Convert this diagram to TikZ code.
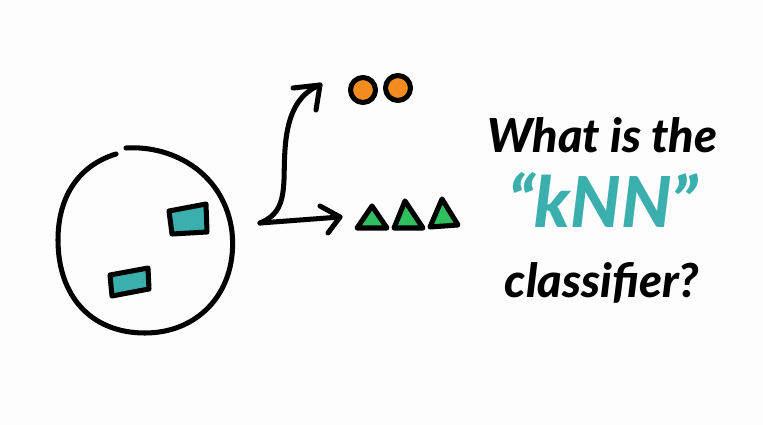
\documentclass[tikz,border=0pt]{standalone}
\usepackage{fontspec}
\setmainfont{Lato}[BoldFont={Lato Black},BoldItalicFont={Lato Black Italic}]
\begin{document}
\begin{tikzpicture}[x=0.03cm,y=-0.03cm,
  ink/.style={line width=4.3pt,line cap=round,line join=round,draw=black},
  teal/.style={ink,fill=tealc},
  dot/.style={ink,fill=orangec},
  tri/.style={ink,fill=greenc},
  title/.style={font=\fontsize{40}{40}\selectfont\bfseries\itshape,inner sep=0pt}]
\definecolor{tealc}{HTML}{3AAFAE}
\definecolor{orangec}{HTML}{F28C1E}
\definecolor{greenc}{HTML}{2EBF5E}
\definecolor{bgc}{HTML}{FDFDFD}
\useasboundingbox (0,0) rectangle (763,425);
\fill[bgc] (0,0) rectangle (763,425);
% big circle with gap
\draw[ink] (126,148) .. controls (175,145) and (225,175) .. (232,232)
  .. controls (238,290) and (200,333) .. (145,333)
  .. controls (90,333) and (58,295) .. (58,240)
  .. controls (58,195) and (80,165) .. (116,154);
% rectangles
\draw[teal] (169,211) -- (206,204) -- (207,232) -- (172,234) -- cycle;
\draw[teal] (110,275) -- (148,268) -- (149,289) -- (112,296) -- cycle;
% arrows
\coordinate (s) at (260,223);
\coordinate (h) at (340,217);
\coordinate (v) at (320,85);
\draw[ink] (s) -- (h);
\draw[ink] (320,206) -- (h) -- (328,233);
\draw[ink] (s) .. controls (280,215) and (283,200) .. (284,180)
  .. controls (285,150) and (282,100) .. (v);
\draw[ink] (293,88) -- (v) -- (316,110);
% orange dots
\draw[dot] (363,90) circle (12.5);
\draw[dot] (398,88) circle (12.5);
% green triangles
\draw[tri] (357,228) -- (372,206) -- (387,228) -- cycle;
\draw[tri] (394,228) -- (405,201) -- (423,228) -- cycle;
\draw[tri] (430,227) -- (442,199) -- (458,225) -- cycle;
% text
\node[title] (t1) at (602,135) {What is the};
\node[title,text=tealc,font=\fontsize{60}{60}\selectfont\bfseries\itshape] (t2) at (603,200) {“kNN”};
\node[title] (t3) at (602,283) {classifier?};
\end{tikzpicture}
\end{document}
